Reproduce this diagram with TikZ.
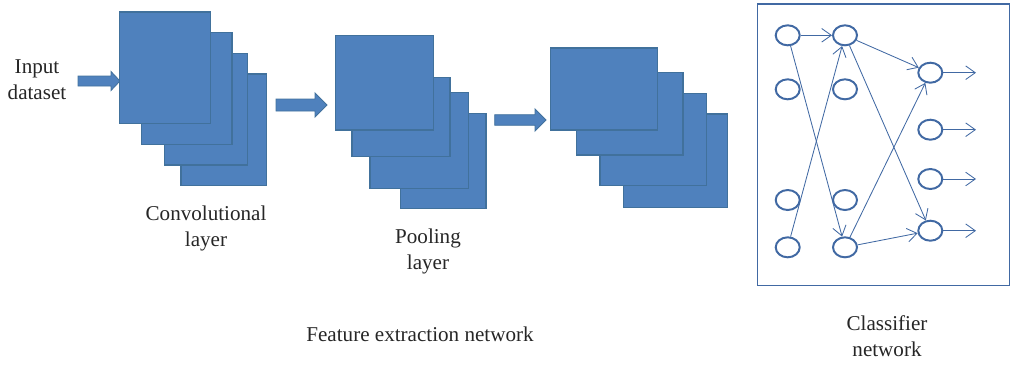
\documentclass[tikz,border=0pt]{standalone}
\usepackage{fontspec}
\setmainfont{Liberation Serif}
\usetikzlibrary{shapes.geometric,arrows.meta}
\definecolor{mapfill}{HTML}{4F81BD}
\definecolor{mapedge}{HTML}{41719C}
\definecolor{netline}{HTML}{4169A3}
\newcommand{\featuremap}[4]{%
  \filldraw[fill=mapfill, draw=mapedge, line width=0.8pt] (#1,#2) rectangle (#3,#4);%
}
\newcommand{\blockarrow}[6]{% start, head start, tip, y, half shaft, half head
  \filldraw[fill=mapfill, draw=mapedge, line width=0.6pt]
    (#1,#4-#5) -- (#2,#4-#5) -- (#2,#4-#6) -- (#3,#4) -- (#2,#4+#6) -- (#2,#4+#5) -- (#1,#4+#5) -- cycle;%
}

\begin{document}
\begin{tikzpicture}[x=0.025cm, y=-0.025cm,
    label/.style={font=\fontsize{15}{18.5}\selectfont, align=center, text=black!85},
    neuron/.style={ellipse, draw=netline, line width=1.4pt, minimum width=0.6cm, minimum height=0.5cm, inner sep=0pt},
    link/.style={draw=netline, line width=0.6pt, -{Straight Barb[length=2.4mm, width=3.4mm]}}]
  \useasboundingbox (0,0) rectangle (1011,364);

  % input
  \node[label] (input) at (37,80) {Input\\dataset};
  \blockarrow{78}{111}{120}{81}{5}{9.5}

  % convolutional layer
  \featuremap{181}{74}{266.7}{185.7}
  \featuremap{164.7}{53.3}{247.3}{165}
  \featuremap{141.3}{32.7}{232}{144.3}
  \featuremap{119.3}{12}{210.7}{123.3}
  \node[label] (conv) at (206,228) {Convolutional\\layer};

  \blockarrow{276}{315}{327}{105}{6}{12}

  % pooling layer
  \featuremap{400.7}{113.7}{486}{208.7}
  \featuremap{370}{92.7}{468.3}{188.3}
  \featuremap{352}{77.3}{450}{156.7}
  \featuremap{335.3}{35.3}{433.3}{130}
  \node[label] (pool) at (428,251) {Pooling\\layer};

  \blockarrow{494.7}{535}{546}{120}{5.3}{11}

  % third stack
  \featuremap{623.7}{114}{727.3}{207.3}
  \featuremap{600}{93.3}{706.7}{185.3}
  \featuremap{576.3}{72.3}{683}{155}
  \featuremap{550.7}{48}{657.3}{130}

  \node[label] (feat) at (420,334) {Feature extraction network};

  % classifier
  \draw[draw=netline, line width=0.9pt] (757.3,4) rectangle (1009.5,285.3);
  \foreach \y [count=\i] in {35.3,89.3,200,247.3} {
    \node[neuron] (i\i) at (787.7,\y) {};
    \node[neuron] (h\i) at (845,\y) {};
  }
  \foreach \y [count=\i] in {72.7,129.7,179,230.7} {
    \node[neuron] (o\i) at (930.3,\y) {};
    \coordinate (out\i) at (976,\y);
    \draw[link] (o\i) -- (out\i);
  }
  \draw[link] (i1) -- (h1);
  \draw[link] (i1) -- (h4);
  \draw[link] (i4) -- (h1);
  \draw[link] (h1) -- (o1);
  \draw[link] (h1) -- (o4);
  \draw[link] (h4) -- (o1);
  \draw[link] (h4) -- (o4);
  \node[label] (cls) at (887,336) {Classifier\\network};
\end{tikzpicture}
\end{document}
